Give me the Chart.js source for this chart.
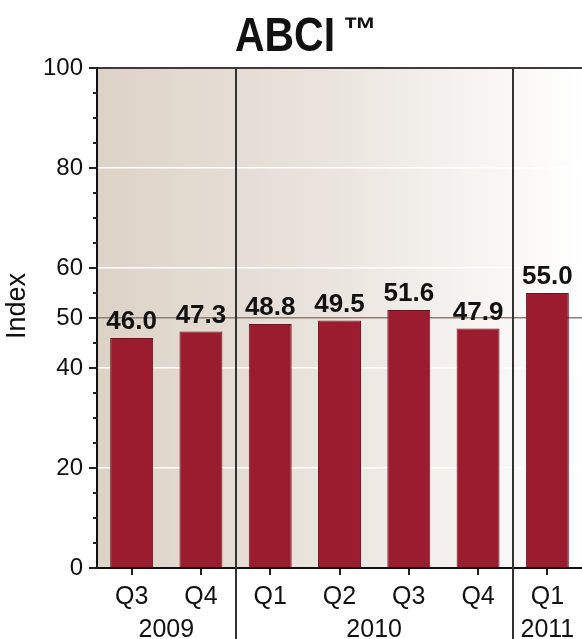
<!DOCTYPE html>
<html><head><meta charset="utf-8">
<script src="https://cdn.jsdelivr.net/npm/chart.js@4.4.1/dist/chart.umd.min.js"></script>
<style>html,body{margin:0;padding:0;background:#fff;} canvas{display:block}</style>
</head><body>
<canvas id="c" width="582" height="639"></canvas>
<script>
// ---- data ----
const quarters = ['Q3', 'Q4', 'Q1', 'Q2', 'Q3', 'Q4', 'Q1'];
const quarterYears = ['2009', '2009', '2010', '2010', '2010', '2010', '2011'];
const values = [46.0, 47.3, 48.8, 49.5, 51.6, 47.9, 55.0];
const yLabelValues = [0, 20, 40, 50, 60, 80, 100];
const titleText = 'ABCI';
const titleMark = '™';
const axisTitle = 'Index';

const FONT = '"Liberation Sans", Arial, sans-serif';

const bgPlugin = {
  id: 'bg',
  beforeDraw(chart) {
    const {ctx, chartArea: a} = chart;
    const g = ctx.createLinearGradient(a.left, 0, a.right, 0);
    g.addColorStop(0, '#ddd2c6');
    g.addColorStop(0.5, '#ebe5df');
    g.addColorStop(1, '#ffffff');
    ctx.save();
    ctx.fillStyle = g;
    ctx.fillRect(a.left, a.top, a.right - a.left, a.bottom - a.top);
    ctx.restore();
  }
};

const overlayPlugin = {
  id: 'overlay',
  afterDatasetsDraw(chart) {
    const {ctx, chartArea: a, scales: {x: xs}} = chart;
    ctx.save();
    // year separators
    ctx.strokeStyle = '#333333';
    ctx.lineWidth = 2;
    for (let i = 1; i < quarterYears.length; i++) {
      if (quarterYears[i] !== quarterYears[i - 1]) {
        const px = Math.round((xs.getPixelForValue(i - 1) + xs.getPixelForValue(i)) / 2);
        ctx.beginPath();
        ctx.moveTo(px, a.top);
        ctx.lineTo(px, chart.height);
        ctx.stroke();
      }
    }
    // value labels
    const meta = chart.getDatasetMeta(0);
    ctx.fillStyle = '#111111';
    ctx.font = 'bold 26px ' + FONT;
    ctx.textAlign = 'center';
    ctx.textBaseline = 'alphabetic';
    meta.data.forEach((bar, i) => {
      ctx.fillText(values[i].toFixed(1), bar.x, bar.y - 9);
    });
    ctx.restore();
  },
  afterDraw(chart) {
    const {ctx, chartArea: a, scales: {x: xs, y: ys}} = chart;
    ctx.save();
    // y tick marks
    ctx.strokeStyle = '#222222';
    ctx.lineWidth = 2;
    for (let v = ys.min; v <= ys.max; v += 5) {
      const py = Math.round(ys.getPixelForValue(v));
      const len = yLabelValues.includes(v) ? 8 : 4;
      ctx.beginPath();
      ctx.moveTo(a.left - len, py);
      ctx.lineTo(a.left, py);
      ctx.stroke();
    }
    // year labels
    ctx.fillStyle = '#111111';
    ctx.font = '25px ' + FONT;
    ctx.textAlign = 'center';
    ctx.textBaseline = 'alphabetic';
    const groups = [];
    quarterYears.forEach((yr, i) => {
      const last = groups[groups.length - 1];
      if (last && last.yr === yr) last.idx.push(i); else groups.push({yr, idx: [i]});
    });
    groups.forEach(g => {
      const cx = g.idx.reduce((s, i) => s + xs.getPixelForValue(i), 0) / g.idx.length;
      ctx.fillText(g.yr, cx, 637);
    });
    // y axis title
    ctx.save();
    ctx.translate(18, 306);
    ctx.rotate(-Math.PI / 2);
    ctx.font = '27px ' + FONT;
    ctx.textAlign = 'center';
    ctx.textBaseline = 'middle';
    ctx.fillText(axisTitle, 0, 0);
    ctx.restore();
    // title
    ctx.font = 'bold 48px "Liberation Sans Narrow", ' + FONT;
    const w = ctx.measureText(titleText).width;
    const sx = 100 / w;
    ctx.textAlign = 'left';
    ctx.save();
    ctx.translate(235, 51);
    ctx.scale(sx, 1);
    ctx.fillText(titleText, 0, 0);
    ctx.restore();
    ctx.font = 'bold 34px ' + FONT;
    ctx.fillText(titleMark, 343, 41);
    ctx.restore();
  }
};

new Chart(document.getElementById('c'), {
  type: 'bar',
  data: {
    labels: quarters,
    datasets: [{
      data: values,
      backgroundColor: '#9b1c2e',
      borderColor: '#6e1421',
      borderWidth: 1,
      barPercentage: 0.62,
      categoryPercentage: 1.0
    }]
  },
  options: {
    responsive: false,
    animation: false,
    devicePixelRatio: 1,
    layout: {padding: {top: 68, right: 0, left: 0, bottom: 0}},
    plugins: {legend: {display: false}, tooltip: {enabled: false}, title: {display: false}},
    scales: {
      x: {
        offset: true,
        grid: {offset: false, color: 'rgba(0,0,0,0)', drawTicks: true, tickLength: 7, tickColor: '#222222', lineWidth: 2},
        border: {display: true, color: '#111111', width: 2},
        ticks: {color: '#111111', font: {family: FONT, size: 25}, padding: 7, autoSkip: false, maxRotation: 0},
        afterFit(s) { s.height = 71; }
      },
      y: {
        min: 0, max: 100,
        grid: {
          drawTicks: false,
          color(c) {
            const v = c.tick && c.tick.value;
            if (v === 100) return '#3c3c3c';
            if (v === 50) return '#8f7f72';
            if (v === 20 || v === 40 || v === 60 || v === 80) return '#ffffff';
            return 'rgba(0,0,0,0)';
          },
          lineWidth(c) {
            const v = c.tick && c.tick.value;
            return v === 100 ? 2 : 1.5;
          }
        },
        border: {display: true, color: '#111111', width: 2},
        ticks: {
          stepSize: 5, autoSkip: false, padding: 14,
          color: '#111111', font: {family: FONT, size: 24},
          callback(v) { return yLabelValues.includes(v) ? String(v) : ''; }
        },
        afterFit(s) { s.width = 97; }
      }
    }
  },
  plugins: [bgPlugin, overlayPlugin]
});
</script>
</body></html>
